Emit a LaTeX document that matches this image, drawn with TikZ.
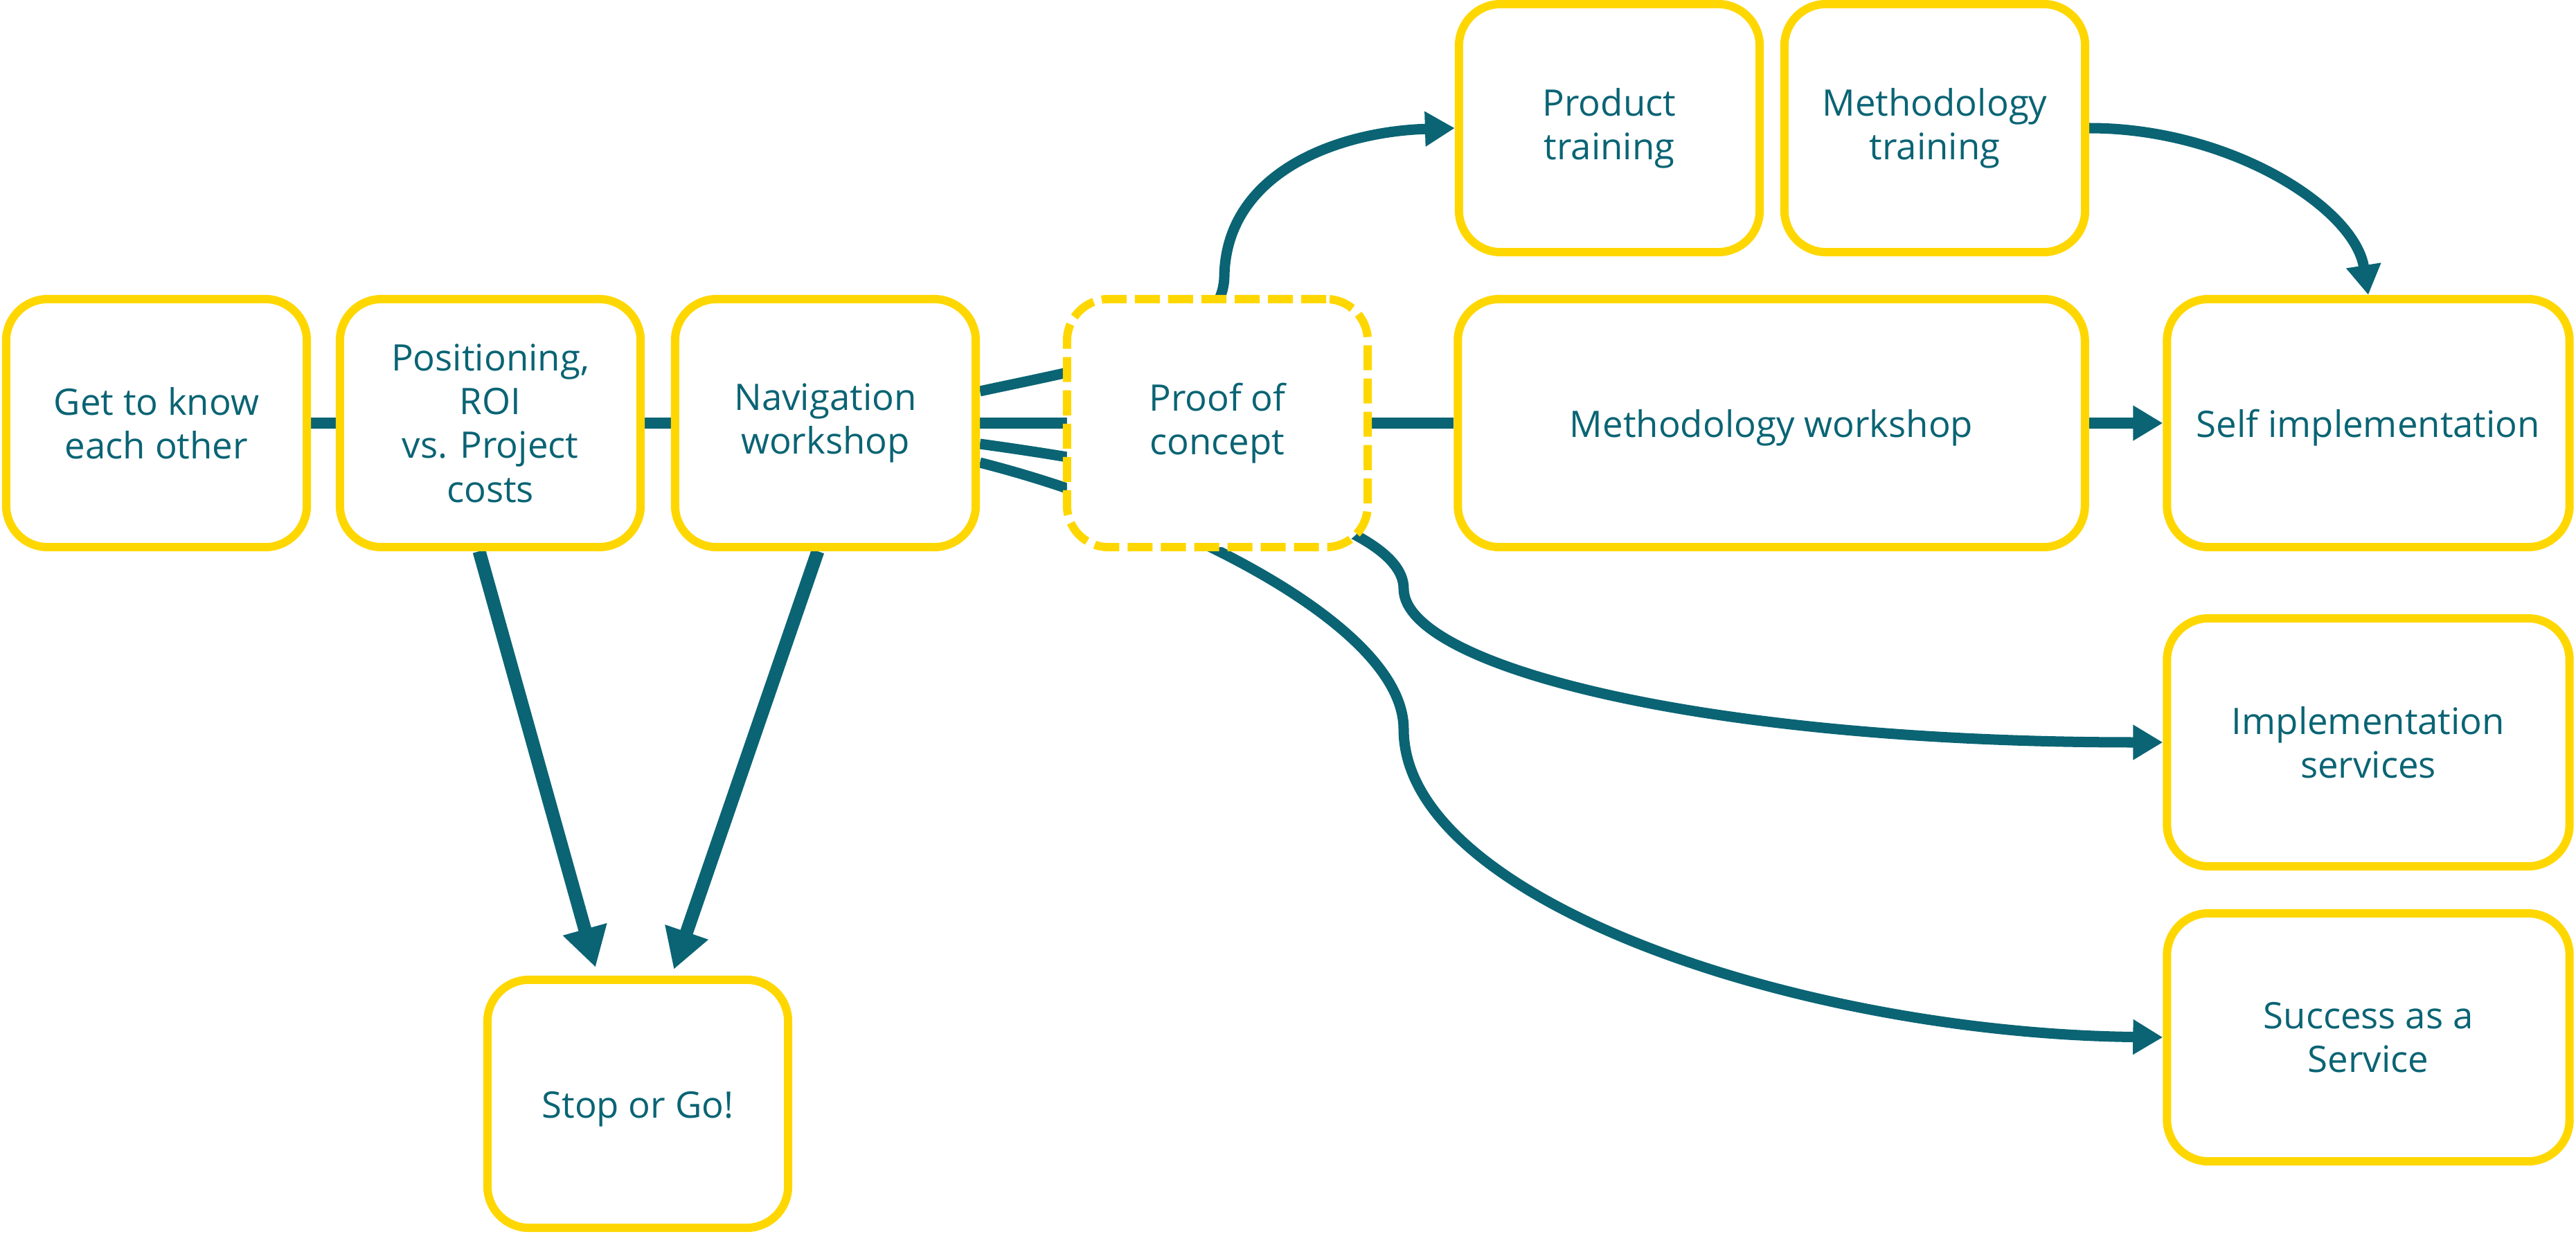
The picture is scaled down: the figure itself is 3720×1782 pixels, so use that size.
\documentclass[tikz,border=0pt]{standalone}
\usepackage{fontspec}
\setmainfont{Open Sans}
\usetikzlibrary{arrows.meta, backgrounds}

\definecolor{flowteal}{HTML}{0A6474}
\definecolor{flowgold}{HTML}{FFD700}

\begin{document}
\begin{tikzpicture}[x=0.01cm, y=-0.01cm,
    box/.style={draw=flowgold, line width=0.12cm, rounded corners=0.6cm, fill=white,
        text=flowteal, align=center, minimum width=4.34cm, minimum height=3.58cm,
        font=\fontsize{15}{18}\selectfont, execute at begin node={\rule{0pt}{15pt}}},
    link/.style={draw=flowteal, line width=0.15cm},
    arrowlink/.style={link, -{Triangle[length=0.43cm, width=0.48cm]}},
    bigarrow/.style={draw=flowteal, line width=0.19cm, -{Triangle[length=0.57cm, width=0.62cm]}}]
    \useasboundingbox (0,0) rectangle (3720,1782);

    % Define the boxes
    \node[box] (know) at (226,611) {Get to know\\each other};
    \node[box] (pos) at (708,611) {Positioning,\\ROI\\vs. Project\\costs};
    \node[box] (nav) at (1192,611) {Navigation\\workshop};
    \node[box, dash pattern=on 0.36cm off 0.12cm] (poc) at (1758,611) {Proof of\\concept};
    \node[box] (prod) at (2324,185) {Product\\training};
    \node[box] (methtr) at (2794,185) {Methodology\\training};
    \node[box, minimum width=9.05cm] (methws) at (2558,611) {Methodology workshop};
    \node[box, minimum width=5.81cm] (self) at (3420,611) {Self implementation};
    \node[box, minimum width=5.81cm] (impl) at (3420,1072) {Implementation\\services};
    \node[box, minimum width=5.81cm] (saas) at (3420,1498) {Success as a\\Service};
    \node[box] (stop) at (921,1594) {Stop or Go!};

    % Draw the connectors behind the boxes
    \begin{pgfonlayer}{background}
        \draw[link] (know) -- (pos);
        \draw[link] (pos) -- (nav);
        \draw[link] (nav) -- (methws);
        \draw[arrowlink] (methws) -- (self);
        \draw[arrowlink] ([yshift=0.46cm]nav.east) .. controls (1600,525) and (1765,500) .. (1768,400)
            .. controls (1770,250) and (1930,190) .. (prod.west);
        \draw[arrowlink] (methtr.east) .. controls (3220,185) and (3400,300) .. (self.north);
        \draw[arrowlink] ([yshift=-0.30cm]nav.east) .. controls (1700,680) and (2027,750) .. (2027,850)
            .. controls (2027,960) and (2450,1072) .. (impl.west);
        \draw[arrowlink] ([yshift=-0.57cm]nav.east) .. controls (1680,735) and (2027,900) .. (2027,1053)
            .. controls (2027,1300) and (2600,1492) .. (saas.west);
        \draw[bigarrow] ([xshift=-0.16cm]pos.south) -- ([xshift=-0.61cm,yshift=0.12cm]stop.north);
        \draw[bigarrow] ([xshift=-0.11cm]nav.south) -- ([xshift=0.52cm,yshift=0.09cm]stop.north);
    \end{pgfonlayer}
\end{tikzpicture}
\end{document}
